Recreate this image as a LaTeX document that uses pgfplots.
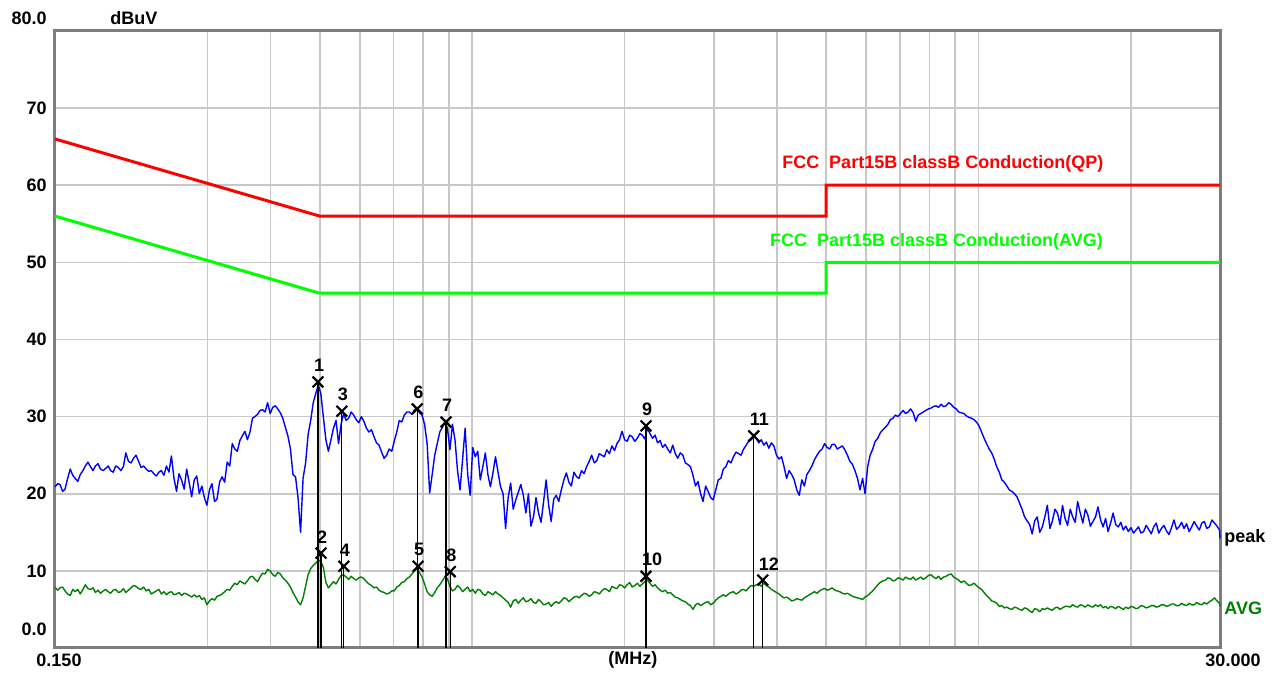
\documentclass[border=0pt]{standalone}
\usepackage{fontspec}
\setmainfont{Liberation Sans}
\usepackage{pgfplots}
\usepackage{pgfplotstable}
\pgfplotsset{compat=1.18}

\definecolor{qpred}{RGB}{255,0,0}
\definecolor{avglim}{RGB}{0,255,0}
\definecolor{pkblue}{RGB}{0,0,255}
\definecolor{avgtrace}{RGB}{0,128,0}
\definecolor{gridgray}{RGB}{200,200,200}
\definecolor{framegray}{RGB}{125,125,125}

% scan: frequency (MHz), peak and average level (dBuV)
\pgfplotstableread{
f peak avg
0.1500 20.9 7.9
0.1518 21.3 7.5
0.1535 21.2 7.8
0.1553 20.3 7.9
0.1570 20.6 7.4
0.1589 22.0 7.0
0.1608 23.2 6.8
0.1626 22.4 7.6
0.1644 22.0 7.3
0.1664 21.6 7.6
0.1683 22.5 7.0
0.1703 23.0 7.6
0.1722 23.6 8.2
0.1743 24.1 7.7
0.1763 23.5 7.6
0.1783 23.0 7.8
0.1803 23.6 7.2
0.1824 23.9 7.5
0.1845 23.2 7.1
0.1867 23.0 7.4
0.1889 23.3 7.6
0.1911 23.6 7.3
0.1932 23.0 7.1
0.1955 22.8 7.5
0.1977 23.6 7.6
0.2001 23.4 7.2
0.2024 23.0 7.3
0.2047 23.5 7.7
0.2070 25.3 7.2
0.2095 24.2 7.5
0.2120 24.0 7.8
0.2144 24.6 8.1
0.2168 25.0 8.0
0.2194 24.2 7.7
0.2219 23.4 7.6
0.2245 23.6 7.9
0.2271 23.2 7.4
0.2298 22.9 7.6
0.2324 23.0 7.0
0.2351 22.6 7.2
0.2378 22.3 7.4
0.2406 22.8 7.6
0.2433 23.0 7.0
0.2462 22.4 7.3
0.2490 23.6 6.9
0.2519 22.8 7.2
0.2547 24.9 7.3
0.2577 22.0 6.9
0.2607 20.3 7.0
0.2637 22.6 7.2
0.2667 21.8 6.8
0.2699 20.6 7.1
0.2730 23.2 7.0
0.2762 21.4 6.8
0.2793 19.6 6.6
0.2826 21.8 6.9
0.2858 22.3 6.6
0.2892 20.0 6.8
0.2925 21.0 6.3
0.2959 19.5 6.5
0.2993 18.5 5.6
0.3028 20.5 6.1
0.3063 21.3 6.4
0.3099 19.0 6.2
0.3134 19.3 6.7
0.3171 21.5 6.8
0.3207 22.2 7.0
0.3245 21.5 7.3
0.3282 24.1 7.6
0.3321 23.6 7.5
0.3359 26.5 8.0
0.3398 25.8 8.4
0.3437 25.5 8.2
0.3477 26.9 8.7
0.3516 27.5 8.5
0.3558 28.1 8.3
0.3599 27.0 8.7
0.3641 28.0 9.2
0.3683 29.8 9.3
0.3726 30.0 8.9
0.3768 30.3 8.6
0.3812 30.8 9.2
0.3855 30.9 9.7
0.3900 30.6 9.6
0.3945 31.8 10.2
0.3992 30.4 10.0
0.4038 31.2 9.5
0.4085 31.4 9.3
0.4131 31.0 9.8
0.4179 30.5 9.6
0.4227 29.8 9.1
0.4277 28.6 8.8
0.4326 27.5 8.4
0.4377 25.8 7.9
0.4427 22.5 7.2
0.4479 22.2 6.6
0.4530 19.5 6.0
0.4583 15.0 5.6
0.4635 22.0 6.5
0.4689 24.0 8.0
0.4743 27.7 9.5
0.4799 29.5 10.3
0.4854 31.8 10.7
0.4911 33.0 11.0
0.4967 34.1 11.4
0.5025 33.0 11.2
0.5082 30.0 10.5
0.5142 27.0 8.5
0.5201 25.5 7.8
0.5262 27.0 8.2
0.5322 28.5 8.6
0.5385 29.5 8.3
0.5447 26.5 8.9
0.5510 29.0 9.4
0.5573 30.4 9.5
0.5638 29.5 9.2
0.5703 29.8 8.9
0.5769 30.6 9.3
0.5835 30.2 9.0
0.5904 29.6 8.8
0.5972 29.2 9.1
0.6042 30.0 9.2
0.6111 29.4 9.0
0.6183 28.5 8.6
0.6254 28.0 8.3
0.6327 28.3 8.1
0.6399 27.4 7.8
0.6474 26.6 7.9
0.6548 26.3 7.5
0.6625 25.4 7.3
0.6701 24.6 7.2
0.6779 25.0 7.0
0.6857 25.8 7.1
0.6937 25.5 7.4
0.7016 26.8 7.4
0.7098 28.0 7.9
0.7179 29.5 8.1
0.7263 29.3 8.5
0.7347 30.2 8.6
0.7433 30.6 9.0
0.7518 30.6 9.2
0.7606 30.3 9.6
0.7694 30.9 10.0
0.7783 31.1 10.3
0.7872 30.5 9.8
0.7964 30.2 9.2
0.8055 29.0 8.3
0.8149 26.5 7.3
0.8243 20.1 6.9
0.8339 22.5 6.7
0.8435 25.0 7.2
0.8533 26.5 7.8
0.8631 28.0 8.2
0.8732 28.6 8.7
0.8832 29.3 9.2
0.8936 28.5 9.0
0.9039 25.7 8.0
0.9144 29.0 7.4
0.9249 27.0 7.6
0.9357 23.0 8.1
0.9465 20.5 7.8
0.9576 24.5 7.3
0.9686 28.5 7.6
0.9799 22.5 7.9
0.9911 19.8 7.3
1.0027 26.0 7.6
1.0142 24.8 7.1
1.0260 25.5 7.6
1.0377 21.8 7.5
1.0498 23.5 7.0
1.0619 25.3 6.8
1.0743 22.5 7.3
1.0866 20.9 7.1
1.0993 22.7 6.9
1.1120 24.8 7.3
1.1250 22.8 7.0
1.1379 20.9 6.8
1.1511 20.0 6.5
1.1643 15.5 6.2
1.1779 19.5 5.9
1.1915 21.4 5.3
1.2054 18.0 6.1
1.2192 19.2 6.3
1.2335 20.2 5.8
1.2477 21.2 6.2
1.2622 19.8 6.5
1.2767 17.5 6.0
1.2916 20.0 6.1
1.3065 15.8 6.4
1.3218 17.0 5.9
1.3370 19.5 5.8
1.3525 17.5 6.3
1.3680 16.3 6.0
1.3840 19.0 5.6
1.4000 21.8 5.7
1.4163 18.5 5.9
1.4325 16.4 5.4
1.4492 19.3 5.8
1.4658 19.8 6.0
1.4829 19.0 5.8
1.500 20.5 6.1
1.518 21.8 6.5
1.535 22.7 6.4
1.553 21.5 6.0
1.570 21.0 6.3
1.589 22.8 6.6
1.608 22.2 6.7
1.626 22.0 6.5
1.644 23.0 6.8
1.664 22.6 7.1
1.683 23.5 7.0
1.703 24.2 6.7
1.722 25.0 6.9
1.743 24.0 7.3
1.763 24.3 7.2
1.783 25.2 7.0
1.803 25.0 7.4
1.824 24.8 7.7
1.845 25.7 7.6
1.867 25.2 7.3
1.889 26.2 8.0
1.911 25.6 7.8
1.932 26.5 7.7
1.955 27.0 8.2
1.977 28.1 8.1
2.001 27.0 7.8
2.024 26.8 8.2
2.047 27.6 8.5
2.070 27.4 7.9
2.095 26.8 8.1
2.120 27.2 8.4
2.144 27.8 8.0
2.168 27.6 8.3
2.194 27.1 8.6
2.219 28.5 8.8
2.245 27.8 8.4
2.271 27.2 8.0
2.298 27.6 8.2
2.324 26.6 7.8
2.351 26.9 7.5
2.378 26.0 7.3
2.406 26.4 7.5
2.433 25.8 7.1
2.462 25.3 7.2
2.490 26.3 6.9
2.519 25.2 6.6
2.547 24.6 6.5
2.577 25.3 6.3
2.607 25.0 6.1
2.637 24.0 6.0
2.667 23.8 5.7
2.699 23.5 5.5
2.730 22.4 5.0
2.762 21.0 5.6
2.793 21.6 5.8
2.826 20.0 5.5
2.858 19.0 5.7
2.892 21.0 5.9
2.925 20.3 6.0
2.959 19.5 5.6
2.993 19.2 5.8
3.028 20.5 6.2
3.063 21.8 6.5
3.099 22.0 6.7
3.134 23.2 6.9
3.171 23.5 6.7
3.207 24.3 7.0
3.245 24.0 7.2
3.282 24.8 7.3
3.321 25.4 7.0
3.359 25.2 7.2
3.398 25.0 7.5
3.437 25.8 7.6
3.477 26.3 7.4
3.516 26.8 7.8
3.558 27.0 8.1
3.599 27.5 8.0
3.641 27.2 8.2
3.683 26.6 8.3
3.726 27.0 8.0
3.768 26.3 8.4
3.812 26.7 8.1
3.855 25.9 7.9
3.900 26.6 7.6
3.945 26.2 7.4
3.992 25.0 7.2
4.038 24.5 7.0
4.085 24.8 6.7
4.131 23.5 6.5
4.179 22.0 6.6
4.227 23.0 6.4
4.277 22.5 6.1
4.326 21.8 6.2
4.377 20.5 6.4
4.427 19.8 6.3
4.479 21.8 6.2
4.530 21.0 6.5
4.583 22.5 6.7
4.635 23.0 6.9
4.689 23.6 7.1
4.743 24.4 7.3
4.799 25.0 7.1
4.854 25.5 7.4
4.911 25.8 7.6
4.967 26.5 7.7
5.025 26.0 7.5
5.082 25.8 7.6
5.142 26.4 7.8
5.201 26.4 7.5
5.262 25.8 7.4
5.322 26.0 7.3
5.385 26.2 7.1
5.447 25.7 7.0
5.510 25.0 7.1
5.573 24.2 6.9
5.638 23.8 6.7
5.703 23.0 6.6
5.769 22.0 6.5
5.835 20.5 6.4
5.904 22.0 6.3
5.972 20.0 6.6
6.042 23.5 6.8
6.111 25.0 7.1
6.183 25.8 7.4
6.254 26.8 7.8
6.327 27.2 8.2
6.399 27.9 8.5
6.474 28.3 8.7
6.548 28.6 8.8
6.625 29.0 9.1
6.701 29.6 9.0
6.779 29.8 8.7
6.857 30.2 8.8
6.937 30.0 9.1
7.016 30.4 9.0
7.098 30.8 8.8
7.179 30.4 9.2
7.263 30.6 9.0
7.347 31.0 8.9
7.433 30.5 9.2
7.518 29.4 8.8
7.606 30.2 9.0
7.694 30.4 9.2
7.783 30.6 8.9
7.872 30.8 9.1
7.964 31.0 9.4
8.055 31.1 9.5
8.149 31.3 9.2
8.243 31.4 9.0
8.339 31.2 9.3
8.435 31.6 8.9
8.533 31.3 9.2
8.631 31.4 9.3
8.732 31.8 9.5
8.832 31.6 9.6
8.936 31.2 9.2
9.039 31.0 9.0
9.144 30.6 8.8
9.249 30.5 8.5
9.357 30.4 8.7
9.465 30.1 8.4
9.576 29.9 8.1
9.686 29.8 8.2
9.799 29.6 8.4
9.911 29.3 8.1
10.027 28.8 7.8
10.142 28.0 7.6
10.260 27.2 7.2
10.377 26.5 6.8
10.498 25.8 6.5
10.619 25.3 6.1
10.743 24.5 6.0
10.866 23.5 5.8
10.993 22.8 5.4
11.120 21.8 5.5
11.250 21.5 5.2
11.379 21.0 5.3
11.511 20.5 5.1
11.643 20.3 5.0
11.779 20.0 5.3
11.915 19.6 5.2
12.054 18.8 5.0
12.192 18.0 4.9
12.335 17.0 5.2
12.477 16.5 5.1
12.622 16.0 4.8
12.767 14.8 4.6
12.916 16.5 5.1
13.065 17.0 5.0
13.218 15.0 4.7
13.370 15.7 5.1
13.525 17.0 5.0
13.680 18.5 5.2
13.840 15.5 5.0
14.000 16.5 4.9
14.163 18.0 5.2
14.325 17.5 5.3
14.492 16.0 5.0
14.658 18.5 5.2
14.829 16.8 5.4
15.00 15.9 5.4
15.18 18.0 5.3
15.35 17.0 5.6
15.53 16.3 5.4
15.70 19.0 5.3
15.89 17.5 5.6
16.08 16.2 5.5
16.26 18.0 5.3
16.44 17.3 5.6
16.64 15.8 5.4
16.83 16.4 5.3
17.03 17.0 5.6
17.22 18.3 5.4
17.43 16.6 5.6
17.63 15.7 5.2
17.83 16.8 5.4
18.03 15.1 5.1
18.24 16.2 5.4
18.45 17.5 5.3
18.67 16.0 5.1
18.89 15.7 5.4
19.11 16.3 5.2
19.32 15.3 5.0
19.55 15.8 5.3
19.77 15.1 5.1
20.01 15.6 5.4
20.24 14.9 5.3
20.47 15.3 5.1
20.70 15.7 5.2
20.95 14.9 5.5
21.20 15.1 5.4
21.44 15.9 5.2
21.68 15.4 5.3
21.94 14.8 5.5
22.19 15.7 5.5
22.45 16.2 5.3
22.71 14.9 5.4
22.98 15.5 5.6
23.24 15.9 5.6
23.51 15.2 5.4
23.78 14.7 5.5
24.06 15.6 5.7
24.33 16.6 5.7
24.62 15.4 5.5
24.90 15.7 5.5
25.19 16.3 5.8
25.47 15.5 5.6
25.77 16.1 5.5
26.07 15.1 5.8
26.37 15.7 5.6
26.67 16.4 5.6
26.99 15.8 5.9
27.30 15.3 5.7
27.62 16.2 5.6
27.93 16.4 5.9
28.26 15.5 5.7
28.58 15.7 6.0
28.92 16.6 6.2
29.25 16.2 6.5
29.59 15.8 6.1
29.93 15.3 5.8
30.00 14.2 5.4
}\scan

% markers: frequency, level, number
\pgfplotstableread{
f lev id
0.496 34.5 1
0.503 12.3 2
0.553 30.7 3
0.558 10.6 4
0.782 10.6 5
0.779 31.0 6
0.888 29.3 7
0.905 9.9 8
2.205 28.8 9
2.205 9.3 10
3.60 27.5 11
3.75 8.8 12
}\marks

\begin{document}
\begin{tikzpicture}[x=0.5pt,y=0.5pt,font=\bfseries\fontsize{9}{11}\selectfont]
\useasboundingbox (0,0) rectangle (1278,674);
\begin{axis}[
    at={(27.5pt,13pt)}, anchor=south west,
    scale only axis, width=582.5pt, height=308.5pt,
    xmode=log, xmin=0.15, xmax=30, ymin=0, ymax=80,
    xtick={0.3,0.4,0.5,0.6,0.7,0.8,0.9,1,2,3,4,5,6,7,8,9,10,20},
    minor xtick={},
    xticklabels={},
    ytick={10,20,30,40,50,60,70},
    yticklabels={},
    tick style={draw=none},
    grid=major,
    major grid style={gridgray, line width=0.8pt},
    axis line style={framegray, line width=1.5pt},
    clip=false]

  \addplot[qpred, line width=1.5pt] coordinates {(0.15,66) (0.5,56) (5,56) (5,60) (30,60)};
  \addplot[avglim, line width=1.5pt] coordinates {(0.15,56) (0.5,46) (5,46) (5,50) (30,50)};

  \addplot[pkblue, line width=0.7pt, line join=round] table[x=f, y=peak] {\scan};
  \addplot[avgtrace, line width=0.7pt, line join=round] table[x=f, y=avg] {\scan};

  \addplot[ycomb, black, line width=0.6pt, mark=x, mark size=3.8pt,
    mark options={line width=1.1pt},
    nodes near coords, point meta=explicit symbolic,
    nodes near coords style={anchor=south west, inner sep=0pt, xshift=-2.5pt, yshift=4.5pt, black}]
    table[x=f, y=lev, meta=id] {\marks};

  \foreach \v in {10,20,...,70} {
    \edef\temp{\noexpand\node[anchor=east, inner sep=0pt, xshift=-4pt] at (axis cs:0.15,\v) {\v};}
    \temp
  }
  \node[anchor=east, inner sep=0pt, xshift=-4pt, yshift=6.5pt] at (axis description cs:0,1) {80.0};
  \node[anchor=east, inner sep=0pt, xshift=-4pt, yshift=9.5pt] at (axis description cs:0,0) {0.0};
  \node[anchor=west, inner sep=0pt, xshift=27.5pt, yshift=6.5pt] at (axis description cs:0,1) {dBuV};
  \node[inner sep=0pt, xshift=2pt, yshift=-6pt] at (axis description cs:0,0) {0.150};
  \node[inner sep=0pt, yshift=-6pt] at (axis description cs:0.4961,0) {(MHz)};
  \node[inner sep=0pt, xshift=6.5pt, yshift=-6pt] at (axis description cs:1,0) {30.000};
  \node[anchor=west, inner sep=0pt, xshift=2pt] at (axis cs:30,14.3) {peak};
  \node[anchor=west, inner sep=0pt, xshift=2pt, text=avgtrace] at (axis cs:30,5.1) {AVG};
  \node[anchor=west, inner sep=0pt, text=qpred] at (axis cs:4.09,62.8) {FCC\ \ Part15B classB Conduction(QP)};
  \node[anchor=west, inner sep=0pt, text=avglim] at (axis cs:3.87,52.7) {FCC\ \ Part15B classB Conduction(AVG)};
\end{axis}
\end{tikzpicture}
\end{document}
